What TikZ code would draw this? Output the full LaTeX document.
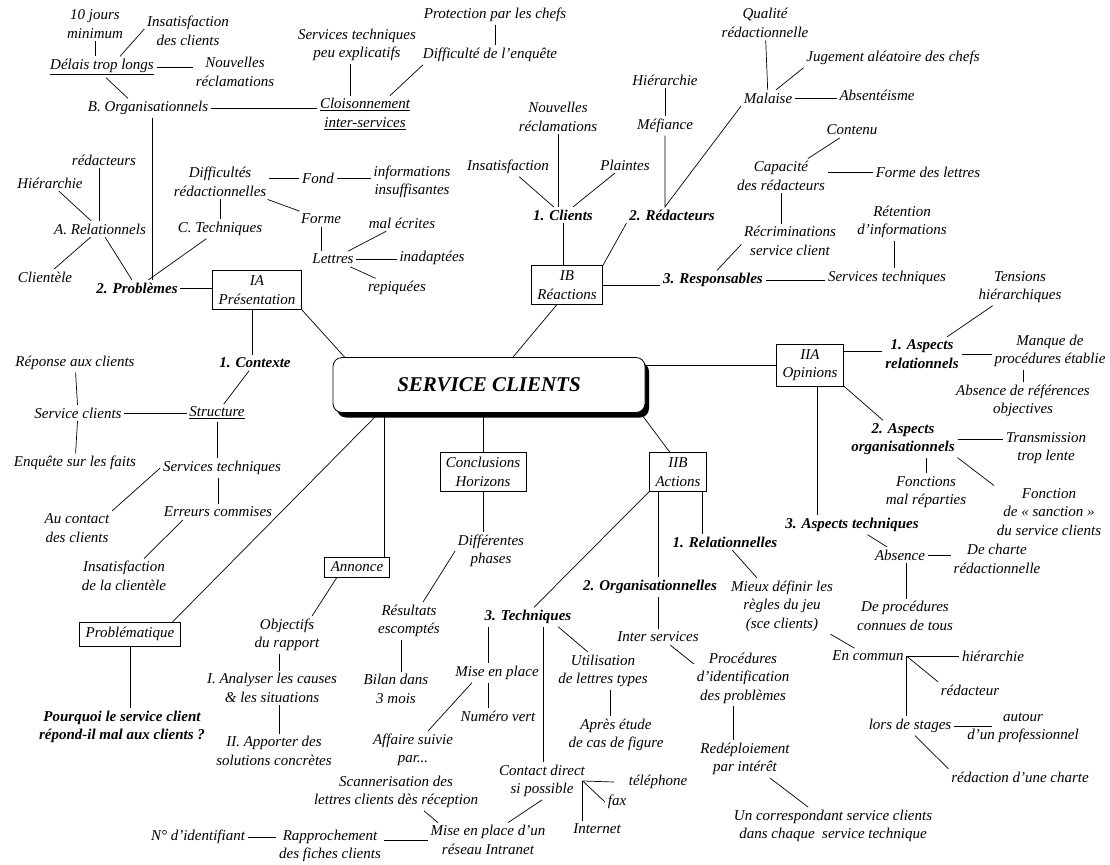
\documentclass[tikz,border=0pt]{standalone}
\usepackage{fontspec}
\setmainfont{Liberation Serif}
\usetikzlibrary{shadows}
\newcommand\nodefont{\fontsize{15}{18.5}\selectfont\itshape}

\begin{document}
\begin{tikzpicture}[x=1pt,y=-1pt,line width=0.7pt,
    every node/.style={font=\nodefont,align=center,inner sep=2.5pt},
    hd/.style={font=\nodefont\bfseries},
    bx/.style={draw,line width=0.6pt,inner xsep=6pt,inner ysep=5pt}]
  \useasboundingbox (0,0) rectangle (1110,864);

  \node[draw,fill=white,rounded corners=9pt,minimum width=312pt,minimum height=55pt,
    line width=0.8pt,drop shadow={shadow xshift=4pt,shadow yshift=-5pt,fill=black,opacity=1},
    font=\fontsize{21}{24}\selectfont\bfseries\itshape] (main) at (489,385) {SERVICE CLIENTS};

  % IA Presentation
  \node[bx] (ia) at (257,290) {IA\\Présentation};
  \node[hd] (prob) at (137,288) {2. Problèmes};
  \node (borg) at (148,108) {B. Organisationnels};
  \node (delais) at (102,67) {\underline{Délais trop longs}};
  \node (jours) at (95,24) {10 jours\\minimum};
  \node (insdc) at (188,31) {Insatisfaction\\des clients};
  \node (nrec) at (235,72) {Nouvelles\\réclamations};
  \node (clois) at (365,114) {\underline{Cloisonnement}\\\underline{inter-services}};
  \node (stpe) at (357,45) {Services techniques\\peu explicatifs};
  \node (prot) at (495,15) {Protection par les chefs};
  \node (diffe) at (490,55) {Difficulté de l'enquête};
  \node (reda) at (104,160) {rédacteurs};
  \node (hier) at (50,183) {Hiérarchie};
  \node (arel) at (100,229) {A. Relationnels};
  \node (clitl) at (45,277) {Clientèle};
  \node (ctech) at (220,229) {C. Techniques};
  \node (diffr) at (220,182) {Difficultés\\rédactionnelles};
  \node (fond) at (318,178) {Fond};
  \node (infos) at (412,182) {informations\\insuffisantes};
  \node (forme) at (321,219) {Forme};
  \node (malec) at (402,223) {mal écrites};
  \node (lettres) at (333,259) {Lettres};
  \node (inad) at (432,258) {inadaptées};
  \node (repiq) at (397,288) {repiquées};
  \node[hd] (ctx) at (255,363) {1. Contexte};
  \node (struct) at (217,413) {\underline{Structure}};
  \node (scl) at (78,413) {Service clients};
  \node (rep) at (75,363) {Réponse aux clients};
  \node (enq) at (75,463) {Enquête sur les faits};
  \node (stech2) at (222,468) {Services techniques};
  \node (err) at (218,512) {Erreurs commises};
  \node (auc) at (77,528) {Au contact\\des clients};
  \node (insc) at (124,576) {Insatisfaction\\de la clientèle};

  \draw (jours.south) -- (jours.south |- delais.north);
  \draw ([yshift=2pt]insdc.west) -- ([xshift=18pt]delais.north);
  \draw (delais.east) -- (delais.east -| nrec.west);
  \draw ([xshift=4pt]delais.south) -- ([xshift=-20pt]borg.north);
  \draw (borg.east) -- (borg.east -| clois.west);
  \draw ([xshift=-7pt]stpe.south) -- ([xshift=-7pt]stpe.south |- clois.north);
  \draw ([xshift=25pt]clois.north) -- ([xshift=3pt]diffe.south west);
  \draw (prot.south) -- (prot.south |- diffe.north);
  \draw ([xshift=4pt]borg.south) -- ([xshift=4pt]borg.south |- prob.north);
  \draw ([xshift=-5pt]reda.south) -- ([xshift=-5pt]reda.south |- arel.north);
  \draw (hier) -- (arel);
  \draw (clitl) -- (arel);
  \draw (arel) -- (prob);
  \draw (ctech) -- (prob);
  \draw (diffr) -- (ctech);
  \draw (fond.west) -- (fond.west -| diffr.east);
  \draw (fond.east) -- (fond.east -| infos.west);
  \draw (diffr) -- (forme);
  \draw (forme.south) -- (forme.south |- lettres.north);
  \draw (lettres) -- (malec);
  \draw (lettres.east) -- (lettres.east -| inad.west);
  \draw (lettres) -- (repiq);
  \draw (prob.east) -- (prob.east -| ia.west);
  \draw (ia.south east) -- ([xshift=12pt]main.north west);
  \draw ([xshift=-5pt]ia.south) -- ([xshift=-5pt]ia.south |- ctx.north);
  \draw (ctx) -- (struct);
  \draw (struct.west) -- (struct.west -| scl.east);
  \draw (scl) -- (rep);
  \draw (scl) -- (enq);
  \draw (struct.south) -- (struct.south |- stech2.north);
  \draw ([xshift=-4pt]stech2.south) -- ([xshift=-4pt]stech2.south |- err.north);
  \draw (stech2.west) -- (auc.north east);
  \draw ([xshift=-35pt]err.south) -- ([xshift=20pt]insc.north);

  % IB Reactions
  \node[bx] (ib) at (567,285) {IB\\Réactions};
  \node (nrec2) at (558,117) {Nouvelles\\réclamations};
  \node (insat) at (508,167) {Insatisfaction};
  \node (plain) at (625,165) {Plaintes};
  \node[hd] (clients) at (563,215) {1. Clients};
  \node (hier2) at (665,80) {Hiérarchie};
  \node (mef) at (665,126) {Méfiance};
  \node[hd] (redac) at (672,215) {2. Rédacteurs};
  \node[hd] (resp) at (713,280) {3. Responsables};
  \node (stech) at (887,278) {Services techniques};
  \node (reten) at (902,222) {Rétention\\d'informations};
  \node (recrim) at (790,241) {Récriminations\\service client};
  \node (capa) at (781,176) {Capacité\\des rédacteurs};
  \node (contenu) at (852,130) {Contenu};
  \node (fdl) at (928,172) {Forme des lettres};
  \node (qual) at (765,23) {Qualité\\rédactionnelle};
  \node (malaise) at (768,98) {Malaise};
  \node (jug) at (893,58) {Jugement aléatoire des chefs};
  \node (absent) at (877,95) {Absentéisme};

  \draw ([xshift=24pt]main.north) -- ([xshift=-10pt]ib.south);
  \draw (nrec2.south) -- (nrec2.south |- clients.north);
  \draw (insat) -- (clients);
  \draw (plain) -- (clients);
  \draw (clients.south) -- (clients.south |- ib.north);
  \draw (redac.south west) -- (ib.north east);
  \draw (hier2) -- (mef);
  \draw (mef.south) -- (mef.south |- redac.north) -- (malaise.south west);
  \draw (ib.east) -- (ib.east -| resp.west);
  \draw (resp.east) -- (resp.east -| stech.west);
  \draw ([xshift=4pt]resp.north) -- ([yshift=14pt]recrim.south west);
  \draw (capa.south) -- (capa.south |- recrim.north);
  \draw (capa) -- (contenu);
  \draw (fdl.west) -- (fdl.west -| capa.east);
  \draw (qual) -- (malaise);
  \draw ([xshift=8pt]malaise.north) -- (jug.south west);
  \draw (malaise.east) -- (malaise.east -| absent.west);
  \draw ([xshift=-8pt]reten.south) -- ([xshift=-8pt]reten.south |- stech.north);

  % IIA Opinions
  \node[bx] (iia) at (810,365) {IIA\\Opinions};
  \node (tens) at (1020,287) {Tensions\\hiérarchiques};
  \node[hd] (asp1) at (922,354) {1. Aspects\\relationnels};
  \node (manq) at (1050,351) {Manque de\\procédures établie};
  \node (absref) at (1023,401) {Absence de références\\objectives};
  \node[hd] (asp2) at (903,439) {2. Aspects\\organisationnels};
  \node (trans) at (1046,448) {Transmission\\trop lente};
  \node (fmr) at (926,492) {Fonctions\\mal réparties};
  \node (fsanc) at (1049,512) {Fonction\\de « sanction »\\du service clients};
  \node[hd] (asp3) at (852,525) {3. Aspects techniques};
  \node (absence) at (900,555) {Absence};
  \node (charte) at (997,559) {De charte\\rédactionnelle};
  \node (procc) at (905,616) {De procédures\\connues de tous};

  \draw (iia.west) -- (iia.west -| main.east);
  \draw (tens) -- (asp1);
  \draw ([yshift=14pt]iia.east) -- ([yshift=14pt]iia.east -| asp1.west);
  \draw (asp1.east) -- (asp1.east -| manq.west);
  \draw (absref.north) -- (absref.north |- manq.south);
  \draw (iia.south east) -- ([xshift=-20pt]asp2.north);
  \draw (asp2.east) -- (asp2.east -| trans.west);
  \draw (fmr.north) -- (fmr.north |- asp2.south);
  \draw (asp2.south east) -- (fsanc.north west);
  \draw ([xshift=7pt]iia.south) -- ([xshift=7pt]iia.south |- asp3.north);
  \draw (asp3) -- (absence);
  \draw (absence.east) -- (absence.east -| charte.west);
  \draw ([xshift=6pt]absence.south) -- ([xshift=6pt]absence.south |- procc.north);

  % IIB Actions
  \node[bx] (iib) at (678,472) {IIB\\Actions};
  \node[hd] (rel1) at (725,542) {1. Relationnelles};
  \node (mieux) at (782,606) {Mieux définir les\\règles du jeu\\(sce clients)};
  \node (encom) at (868,656) {En commun};
  \node (hier3) at (993,656) {hiérarchie};
  \node (redr) at (970,690) {rédacteur};
  \node (stages) at (910,726) {lors de stages};
  \node (autour) at (1023,728) {autour\\d'un professionnel};
  \node (rdc) at (1020,777) {rédaction d'une charte};
  \node[hd] (org2) at (650,587) {2. Organisationnelles};
  \node (inter) at (658,637) {Inter services};
  \node (procid) at (743,678) {Procédures\\d'identification\\des problèmes};
  \node (redep) at (745,759) {Redéploiement\\par intérêt};
  \node (corr) at (833,826) {Un correspondant service clients\\dans chaque\ \ service technique};
  \node[hd] (tech3) at (528,617) {3. Techniques};
  \node (mep) at (497,673) {Mise en place};
  \node (numv) at (498,716) {Numéro vert};
  \node (aff) at (413,750) {Affaire suivie\\par...};
  \node (contact) at (542,781) {Contact direct\\si possible};
  \node (util) at (603,671) {Utilisation\\de lettres types};
  \node (apres) at (616,735) {Après étude\\de cas de figure};
  \node (tel) at (658,782) {téléphone};
  \node (fax) at (617,802) {fax};
  \node (internet) at (597,829) {Internet};
  \coordinate (jn) at ([xshift=-5pt]contact.east);
  \node (intra) at (488,840) {Mise en place d'un\\réseau Intranet};
  \node (scan) at (396,792) {Scannerisation des\\lettres clients dès réception};
  \node (rappr) at (330,846) {Rapprochement\\des fiches clients};
  \node (nid) at (198,837) {N° d'identifiant};

  \draw ([xshift=-5pt]main.south east) -- ([xshift=-8pt]iib.north);
  \draw ([xshift=24pt]iib.south) -- ([xshift=24pt]iib.south |- rel1.north);
  \draw (rel1) -- (mieux);
  \draw (mieux) -- (encom);
  \draw (encom.east) -- (encom.east -| hier3.west);
  \draw (encom.east) -- (redr.north west);
  \draw (encom.east) -- (encom.east |- stages.north);
  \draw (stages.east) -- ++(38,0);
  \draw ([xshift=5pt]stages.south) -- (rdc.north west);
  \draw ([xshift=-20pt]iib.south) -- ([xshift=-20pt]iib.south |- org2.north);
  \draw (inter.north) -- (inter.north |- org2.south);
  \draw ([xshift=12pt]inter.south) -- ([yshift=14pt]procid.west);
  \draw ([xshift=-10pt]procid.south) -- ([xshift=-10pt]procid.south |- redep.north);
  \draw (redep) -- (corr);
  \draw (iib.south west) -- ([xshift=6pt]tech3.north);
  \draw ([xshift=-40pt]tech3.south) -- ([xshift=-40pt]tech3.south |- mep.north);
  \draw ([xshift=-9pt]mep.south) -- ([xshift=-9pt]mep.south |- numv.north);
  \draw ([xshift=-25pt]mep.south) -- ([xshift=15pt]aff.north);
  \draw ([xshift=15pt]tech3.south) -- ([xshift=15pt]tech3.south |- contact.north);
  \draw ([xshift=30pt]tech3.south) -- ([xshift=-15pt]util.north);
  \draw ([xshift=7pt]util.south) -- ([xshift=7pt]util.south |- apres.north);
  \draw (jn) -- ([xshift=-12pt]tel.west);
  \draw (jn) -- (fax.west);
  \draw (jn) -- (jn |- internet.north);
  \draw (contact.south) -- ([xshift=20pt]intra.north);
  \draw ([xshift=28pt]scan.south) -- ([xshift=-50pt]intra.north);
  \draw (intra.west) -- (intra.west -| rappr.east);
  \draw (nid.east) -- (nid.east -| rappr.west);

  % Problematique, Annonce, Conclusions
  \node[bx] (probl) at (130,634) {Problématique};
  \node[hd] (pourq) at (122,727) {Pourquoi le service client\\répond-il mal aux clients ?};
  \node[bx] (ann) at (357,567) {Annonce};
  \node (obj) at (287,635) {Objectifs\\du rapport};
  \node (anal) at (272,688) {I. Analyser les causes\\\& les situations};
  \node (appo) at (274,751) {II. Apporter des\\solutions concrètes};
  \node[bx] (concl) at (483,472) {Conclusions\\Horizons};
  \node (diffp) at (491,551) {Différentes\\phases};
  \node (resu) at (409,621) {Résultats\\escomptés};
  \node (bilan) at (396,689) {Bilan dans\\3 mois};

  \draw ([xshift=-110pt]main.south) -- ([xshift=-8pt]probl.north east);
  \draw (probl.south) -- (probl.south |- pourq.north);
  \draw ([xshift=27pt]ann.north) -- ([xshift=27pt]ann.north |- main.south);
  \draw ([xshift=-20pt]ann.south) -- ([xshift=25pt]obj.north);
  \draw ([xshift=-8pt]obj.south) -- ([xshift=-8pt]obj.south |- anal.north);
  \draw ([xshift=7pt]anal.south) -- ([xshift=7pt]anal.south |- appo.north);
  \draw (concl.north) -- (concl.north |- main.south);
  \draw (concl.south) -- (concl.south |- diffp.north);
  \draw (diffp.west) -- ([xshift=14pt]resu.north);
  \draw ([xshift=-8pt]resu.south) -- ([xshift=-8pt]resu.south |- bilan.north);
\end{tikzpicture}
\end{document}
